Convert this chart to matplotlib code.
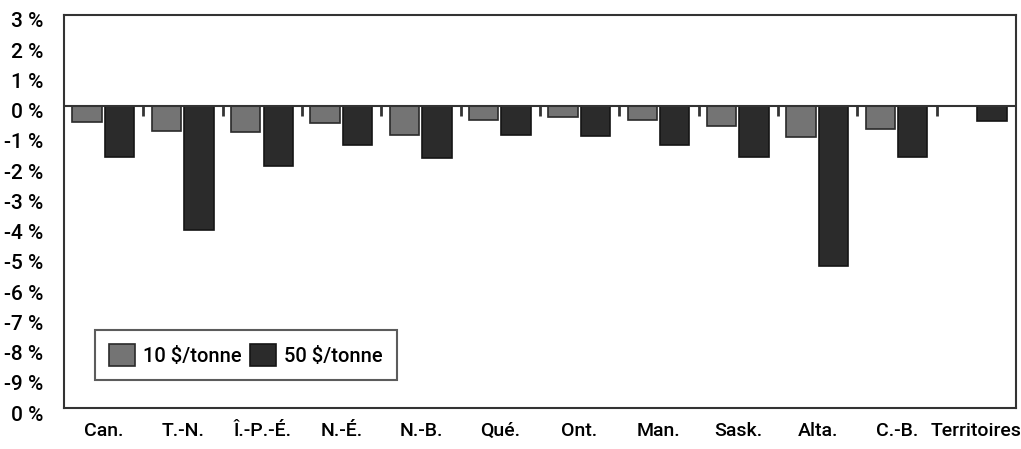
import matplotlib
matplotlib.use('Agg')
import matplotlib.pyplot as plt
import matplotlib.transforms as mtransforms
import numpy as np

provinces = ['Can.', 'T.-N.', 'Î.-P.-É.', 'N.-É.', 'N.-B.', 'Qué.', 'Ont.', 'Man.',
             'Sask.', 'Alta.', 'C.-B.', 'Territoires']
tax_10 = [-0.55, -0.85, -0.88, -0.58, -0.98, -0.48, -0.38, -0.47, -0.68, -1.05, -0.78, 0.0]
tax_50 = [-1.7, -4.1, -2.0, -1.3, -1.72, -0.98, -1.0, -1.3, -1.7, -5.3, -1.7, -0.5]
ytick_vals = [3, 2, 1, 0, -1, -2, -3, -4, -5, -6, -7, -8, -9, -10]
ytick_text = ['3 %', '2 %', '1 %', '0 %', '-1 %', '-2 %', '-3 %', '-4 %', '-5 %',
              '-6 %', '-7 %', '-8 %', '-9 %', '0 %']

plt.rcParams['font.family'] = ['Roboto', 'DejaVu Sans']
plt.rcParams['font.weight'] = 'medium'

fig = plt.figure(figsize=(10.21, 4.49), dpi=100)
ax = fig.add_axes([0.0627, 0.0913, 0.9323, 0.8753])

x = np.arange(len(provinces))
w = 0.37
ax.bar(x - 0.025 - w / 2, tax_10, width=w, color='#747474', edgecolor='#2a2a2a',
       linewidth=1.2, label='10 $/tonne')
ax.bar(x + 0.015 + w / 2, tax_50, width=w, color='#2b2b2b', edgecolor='#151515',
       linewidth=1.2, label='50 $/tonne')

ax.axhline(0, color='#333333', linewidth=1.5)
ax.vlines(x[1:] - 0.5, -0.35, 0, color='#333333', linewidth=2)

ax.set_xlim(-0.5, len(provinces) - 0.5)
ax.set_ylim(-10, 3)
ax.set_yticks(ytick_vals)
ax.set_yticklabels(ytick_text, fontsize=15)
ax.set_xticks(x)
ax.set_xticklabels(provinces, fontsize=14)
ax.tick_params(axis='both', length=0)
ax.tick_params(axis='y', pad=15)
ax.tick_params(axis='x', pad=10)

off = mtransforms.ScaledTranslation(0, -5 / 100, fig.dpi_scale_trans)
for lab in ax.get_yticklabels():
    lab.set_transform(lab.get_transform() + off)

for s in ax.spines.values():
    s.set_color('#333333')
    s.set_linewidth(1.5)

leg = ax.legend(loc='lower left', bbox_to_anchor=(0.022, 0.045), ncol=2, fontsize=14.5,
                frameon=True, fancybox=False, edgecolor='#333333', handlelength=1.3,
                handleheight=1.3, handletextpad=0.4, columnspacing=0.4,
                borderpad=0.7)
leg.get_frame().set_linewidth(1.5)

fig.savefig('out.png', dpi=100)
